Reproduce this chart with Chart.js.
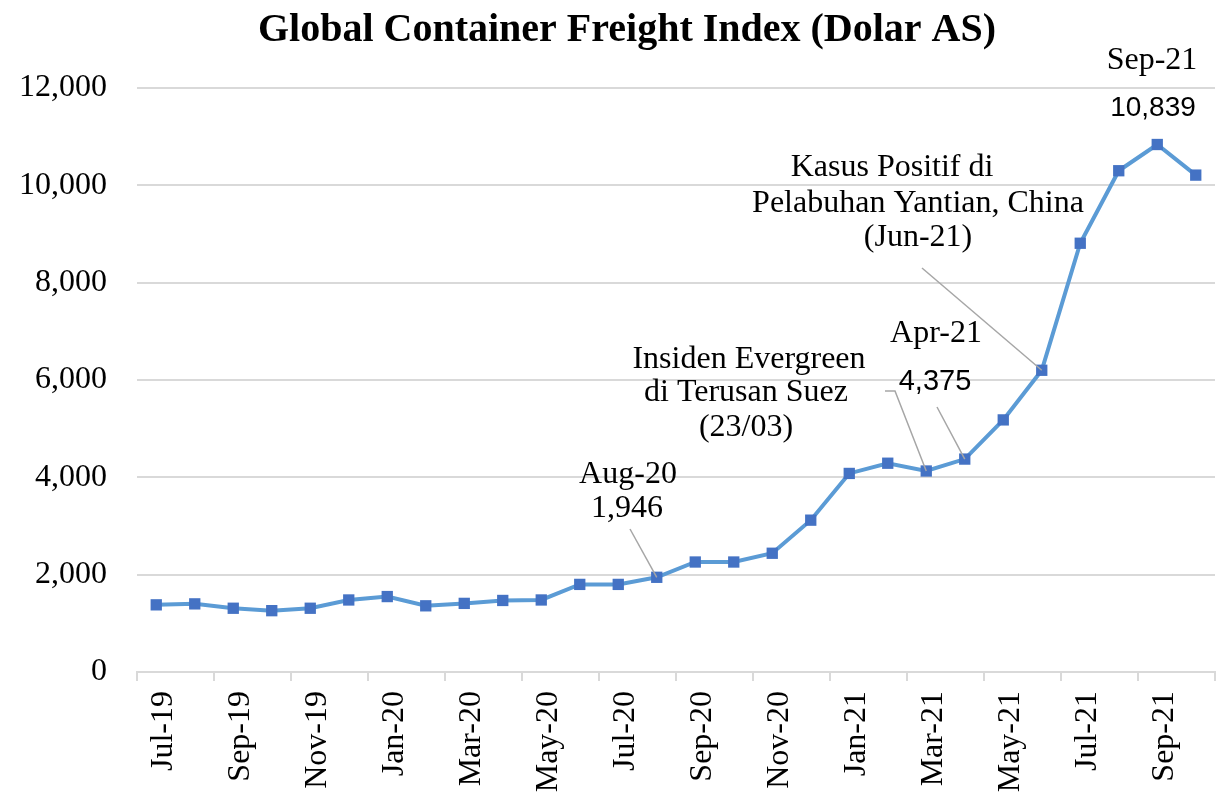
<!DOCTYPE html>
<html>
<head>
<meta charset="utf-8">
<script src="https://cdn.jsdelivr.net/npm/chart.js@4/dist/chart.umd.min.js"></script>
<style>
html,body{margin:0;padding:0;background:#fff;}
#wrap{width:1223px;height:802px;position:relative;}
</style>
</head>
<body>
<div id="wrap"><canvas id="c" width="1223" height="802"></canvas></div>
<script>
const categories = ['Jul-19','Aug-19','Sep-19','Oct-19','Nov-19','Dec-19','Jan-20','Feb-20','Mar-20','Apr-20','May-20','Jun-20','Jul-20','Aug-20','Sep-20','Oct-20','Nov-20','Dec-20','Jan-21','Feb-21','Mar-21','Apr-21','May-21','Jun-21','Jul-21','Aug-21','Sep-21','Oct-21'];
const freightIndex = [1380,1400,1310,1260,1310,1480,1550,1360,1410,1470,1480,1800,1800,1946,2260,2260,2440,3120,4080,4290,4130,4375,5180,6200,8810,10300,10839,10210];
const yTicks = [0,2000,4000,6000,8000,10000,12000];
const titleText = 'Global Container Freight Index (Dolar AS)';

const SERIF = "'Liberation Serif', 'Times New Roman', serif";
const SANS = "'Liberation Sans', Arial, sans-serif";

// annotation texts
const annAug = ['Aug-20','1,946'];
const annEvergreen = ['Insiden Evergreen','di Terusan Suez','(23/03)'];
const annApr = ['Apr-21','4,375'];
const annYantian = ['Kasus Positif di','Pelabuhan Yantian, China','(Jun-21)'];
const annSep = ['Sep-21','10,839'];

const annotationPlugin = {
  id: 'annotations',
  afterDatasetsDraw(chart) {
    const ctx = chart.ctx;
    const xs = chart.scales.x, ys = chart.scales.y;
    const pt = (i) => ({x: xs.getPixelForValue(i), y: ys.getPixelForValue(freightIndex[i])});
    ctx.save();
    // title
    ctx.fillStyle = '#000';
    ctx.textAlign = 'center';
    ctx.textBaseline = 'alphabetic';
    ctx.font = 'bold 40px ' + SERIF;
    ctx.fillText(titleText, 627, 41);

    // leader lines
    ctx.strokeStyle = '#A6A6A6';
    ctx.lineWidth = 1.5;
    const iAug = categories.indexOf('Aug-20');
    const iMar = categories.indexOf('Mar-21');
    const iApr = categories.indexOf('Apr-21');
    const iJun = categories.indexOf('Jun-21');
    let p = pt(iAug);
    ctx.beginPath(); ctx.moveTo(630, 529); ctx.lineTo(p.x, p.y); ctx.stroke();
    p = pt(iMar);
    ctx.beginPath(); ctx.moveTo(885, 391); ctx.lineTo(895, 391); ctx.lineTo(p.x, p.y); ctx.stroke();
    p = pt(iApr);
    ctx.beginPath(); ctx.moveTo(937, 407); ctx.lineTo(p.x, p.y); ctx.stroke();
    p = pt(iJun);
    ctx.beginPath(); ctx.moveTo(922, 268); ctx.lineTo(p.x, p.y); ctx.stroke();

    // texts
    ctx.font = '32px ' + SERIF;
    ctx.fillText(annAug[0], 628, 483);
    ctx.fillText(annAug[1], 627, 517);
    ctx.fillText(annEvergreen[0], 749, 368);
    ctx.fillText(annEvergreen[1], 746, 401);
    ctx.fillText(annEvergreen[2], 746, 436);
    ctx.fillText(annApr[0], 936, 342);
    ctx.fillText(annYantian[0], 892, 176);
    ctx.fillText(annYantian[1], 918, 212);
    ctx.fillText(annYantian[2], 918, 246);
    ctx.fillText(annSep[0], 1152, 69);
    ctx.font = '29px ' + SANS;
    ctx.fillText(annApr[1], 935, 390);
    ctx.font = '28px ' + SANS;
    ctx.fillText(annSep[1], 1153, 116);
    ctx.restore();
  }
};

new Chart(document.getElementById('c'), {
  type: 'line',
  data: {
    labels: categories,
    datasets: [{
      data: freightIndex,
      borderColor: '#5B9BD5',
      borderWidth: 4,
      tension: 0,
      pointStyle: 'rect',
      pointRadius: 8,
      pointHoverRadius: 8,
      pointBackgroundColor: '#4472C4',
      pointBorderColor: '#4472C4',
      pointBorderWidth: 0,
      clip: false
    }]
  },
  options: {
    responsive: false,
    animation: false,
    events: [],
    layout: { padding: { left: 0, right: 4, top: 88, bottom: 0 } },
    plugins: {
      legend: { display: false },
      tooltip: { enabled: false },
      title: { display: false }
    },
    scales: {
      x: {
        type: 'category',
        offset: true,
        afterFit(scale) { scale.height = 130; scale.paddingLeft = 0; scale.paddingRight = 0; },
        border: { display: true, color: '#D9D9D9', width: 2 },
        grid: {
          offset: true,
          drawOnChartArea: false,
          drawTicks: true,
          tickLength: 9,
          lineWidth: 2,
          tickWidth: 2,
          color: (c) => (c.index === undefined || c.index % 2 === 0) ? '#D9D9D9' : 'rgba(0,0,0,0)',
          tickColor: (c) => (c.index === undefined || c.index % 2 === 0) ? '#D9D9D9' : 'rgba(0,0,0,0)'
        },
        ticks: {
          autoSkip: false,
          maxRotation: 90,
          minRotation: 90,
          padding: 10,
          labelOffset: 7,
          color: '#000',
          font: { family: SERIF, size: 32 },
          callback: function(v, i) { return i % 2 === 0 ? categories[i] : ''; }
        }
      },
      y: {
        min: yTicks[0],
        max: yTicks[yTicks.length - 1],
        afterFit(scale) { scale.width = 137; scale.paddingTop = 0; },
        afterBuildTicks(scale) { scale.ticks = yTicks.map(v => ({value: v})); },
        border: { display: false },
        grid: { color: '#D9D9D9', lineWidth: 2, drawTicks: false },
        ticks: {
          padding: 30,
          color: '#000',
          font: { family: SERIF, size: 32 },
          callback: (v) => v.toLocaleString('en-US')
        }
      }
    }
  },
  plugins: [annotationPlugin]
});
</script>
</body>
</html>
